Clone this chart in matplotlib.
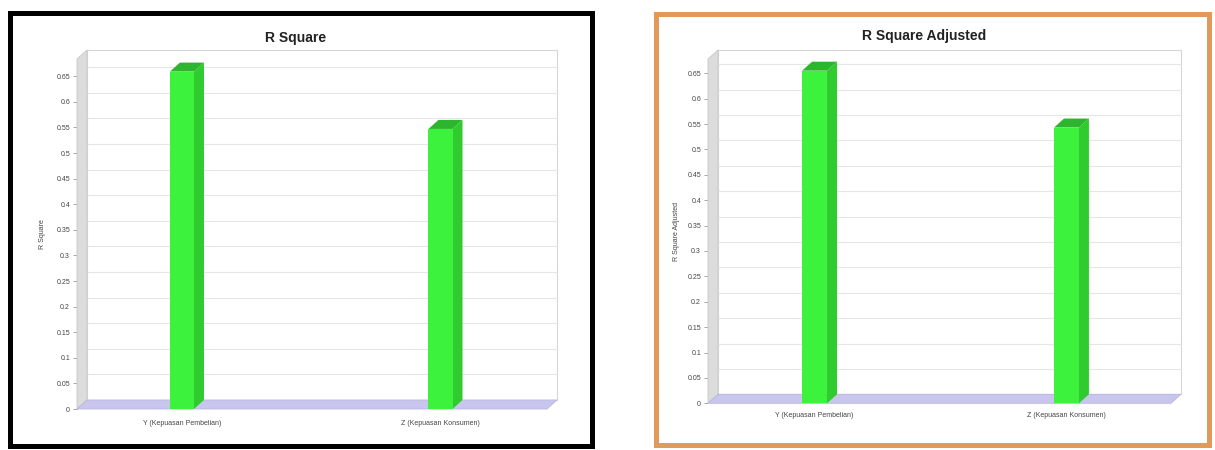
import matplotlib
matplotlib.use("Agg")
import matplotlib.pyplot as plt
from matplotlib.patches import Polygon, Rectangle

plt.rcParams['font.family'] = ['Liberation Sans', 'DejaVu Sans']

# ---- data -------------------------------------------------------------
categories = ["Y (Kepuasan Pembelian)", "Z (Kepuasan Konsumen)"]
r_square = [0.659, 0.547]
r_square_adjusted = [0.655, 0.543]
y_ticks = [0, 0.05, 0.1, 0.15, 0.2, 0.25, 0.3, 0.35, 0.4, 0.45, 0.5, 0.55, 0.6, 0.65]

W, H = 1215, 450
DX, DY = 10, 9  # 3D depth in pixels

FRONT = '#3CF23C'
SIDE = '#2FCB2F'
TOP = '#2DB52D'
FLOOR = '#C9C6EE'
WALL = '#DCDCDC'
GRID = '#E6E6E6'

fig = plt.figure(figsize=(W / 100, H / 100), dpi=100)
fig.patch.set_facecolor('white')


def add_frame(x0, y0, x1, y1, color, lw_px):
    ax = fig.add_axes([0, 0, 1, 1], zorder=-5)
    ax.set_xlim(0, W)
    ax.set_ylim(H, 0)
    ax.axis('off')
    ax.add_patch(Rectangle((x0, y0), x1 - x0, y1 - y0, fill=False,
                           edgecolor=color, linewidth=lw_px * 0.72,
                           joinstyle='miter'))


def bar3d_chart(box, values, xlim, ymax, width, title, title_xy, ylabel, ylabel_x, label_pad):
    x0, top, x1, bot = box
    ax = fig.add_axes([x0 / W, 1 - bot / H, (x1 - x0) / W, (bot - top) / H])
    ax.set_xlim(*xlim)
    ax.set_ylim(0, ymax)
    ax.patch.set_alpha(0)
    for s in ax.spines.values():
        s.set_visible(False)

    aw, ah = x1 - x0, bot - top
    fx, fy = DX / aw, DY / ah                  # depth in axes fraction
    ddx = DX * (xlim[1] - xlim[0]) / aw        # depth in data units
    ddy = DY * ymax / ah

    # back panel
    ax.add_patch(Polygon([(fx, fy), (1 + fx, fy), (1 + fx, 1 + fy), (fx, 1 + fy)],
                         closed=True, transform=ax.transAxes, facecolor='white',
                         edgecolor='#D6D6D6', linewidth=0.8, clip_on=False, zorder=0))
    # gridlines on the back panel
    for t in y_ticks[1:]:
        ax.plot([xlim[0] + ddx, xlim[1] + ddx], [t + ddy, t + ddy], color=GRID,
                linewidth=0.8, clip_on=False, zorder=1)
    # left wall
    ax.add_patch(Polygon([(0, 0), (fx, fy), (fx, 1 + fy), (0, 1)], closed=True,
                         transform=ax.transAxes, facecolor=WALL, edgecolor='#C8C8C8',
                         linewidth=0.6, clip_on=False, zorder=2))
    # floor
    ax.add_patch(Polygon([(0, 0), (1, 0), (1 + fx, fy), (fx, fy)], closed=True,
                         transform=ax.transAxes, facecolor=FLOOR, edgecolor='#B9B6E2',
                         linewidth=0.6, clip_on=False, zorder=3))

    # 3D bars
    idx = list(range(len(values)))
    ax.bar(idx, values, width=width, color=FRONT, zorder=6, clip_on=False)
    for i, v in zip(idx, values):
        r = i + width / 2
        l = i - width / 2
        ax.add_patch(Polygon([(r, 0), (r + ddx, ddy), (r + ddx, v + ddy), (r, v)],
                             closed=True, facecolor=SIDE, edgecolor='none',
                             zorder=5, clip_on=False))
        ax.add_patch(Polygon([(l, v), (l + ddx, v + ddy), (r + ddx, v + ddy), (r, v)],
                             closed=True, facecolor=TOP, edgecolor='none',
                             zorder=5, clip_on=False))

    ax.set_yticks(y_ticks)
    ax.set_yticklabels([f"{t:g}" for t in y_ticks])
    ax.tick_params(axis='y', length=3, width=0.6, color='#999999', pad=2,
                   labelsize=5, labelcolor='#444444')
    ax.set_xticks(idx)
    ax.set_xticklabels(categories)
    ax.tick_params(axis='x', length=0, pad=label_pad, labelsize=5, labelcolor='#444444')

    fig.text(title_xy[0] / W, 1 - title_xy[1] / H, title, ha='center', va='center',
             fontsize=10, fontweight='bold', color='#222222')
    fig.text(ylabel_x / W, 1 - (top + bot) / 2 / H, ylabel, rotation=90,
             ha='center', va='center', fontsize=5, color='#444444')
    return ax


# left panel: R Square
add_frame(10, 13, 592, 446, 'black', 5)
bar3d_chart((77, 59, 547, 409), r_square, (-0.406, 1.412), 0.6836, 0.093,
            "R Square", (296, 38), "R Square", 43, 8)

# right panel: R Square Adjusted
add_frame(655.5, 14, 1209, 444.5, '#E2995C', 5)
bar3d_chart((708, 59, 1171, 403.3), r_square_adjusted, (-0.423, 1.415), 0.678, 0.099,
            "R Square Adjusted", (924, 36), "R Square Adjusted", 677, 6)

fig.savefig("out.png", dpi=100, facecolor='white')
